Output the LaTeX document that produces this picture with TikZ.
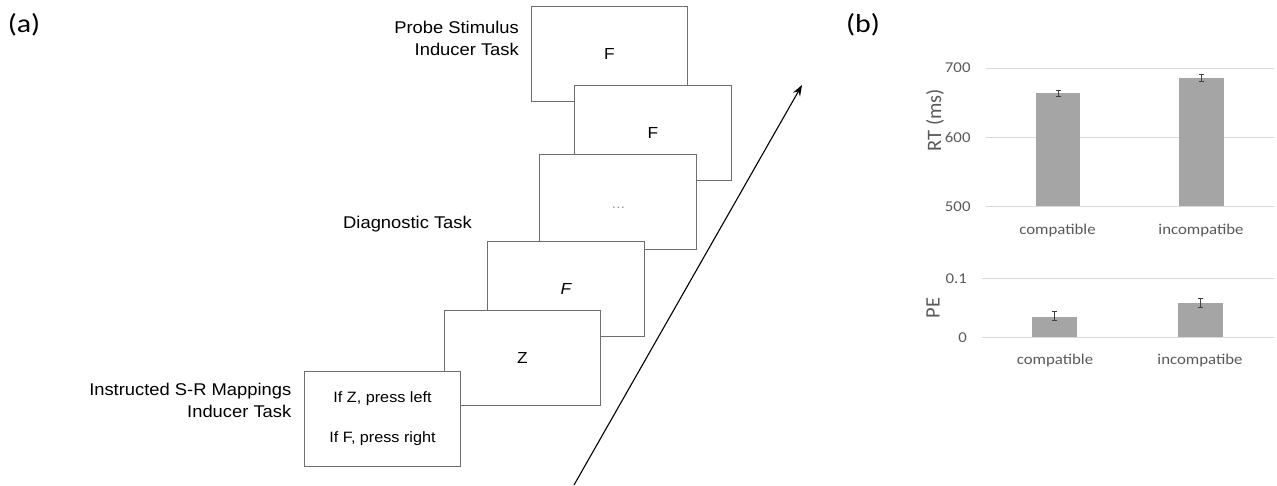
\documentclass[tikz,border=0pt]{standalone}
\usepackage{fontspec}
\usetikzlibrary{arrows.meta}
\newfontfamily\labfont[FakeStretch=1.08]{Liberation Sans}
\newfontfamily\chartfont[FakeStretch=1.12]{Carlito}
\newfontfamily\panelfont[FakeStretch=1.15]{Carlito}
\newfontfamily\titlefont{Carlito}
\definecolor{framegray}{HTML}{6E6E6E}
\definecolor{axisgray}{HTML}{595959}
\definecolor{gridgray}{HTML}{D9D9D9}
\definecolor{bargray}{HTML}{A5A5A5}
\definecolor{errgray}{HTML}{404040}
\definecolor{dotgray}{HTML}{8C8C8C}
\tikzset{
  screen/.style={draw=framegray, fill=white, line width=1pt,
    minimum width=156.5pt, minimum height=95pt, inner sep=0pt,
    font=\labfont\fontsize{16}{19}\selectfont, text=black},
  tasklabel/.style={font=\labfont\fontsize{17}{22}\selectfont, align=right, inner sep=0pt},
  panellabel/.style={font=\panelfont\fontsize{26}{30}\selectfont, inner sep=0pt},
  ticklbl/.style={font=\chartfont\fontsize{15}{18}\selectfont, text=axisgray, inner sep=0pt, anchor=east},
  catlbl/.style={font=\chartfont\fontsize{15}{18}\selectfont, text=axisgray, inner sep=0pt},
  axtitle/.style={font=\titlefont\fontsize{20.5}{24}\selectfont, text=axisgray, inner sep=0pt, rotate=90},
  gridln/.style={gridgray, line width=1pt},
  bar/.style={fill=bargray, draw=none},
  errbar/.style={errgray, line width=0.9pt},
  timeline/.style={line width=1.1pt, -{Stealth[length=11pt, width=8pt]}}
}
\begin{document}
\begin{tikzpicture}[x=1pt, y=-1pt]
  \useasboundingbox (0,0) rectangle (1277,485);

  % ---------- (a) trial sequence ----------
  \node[panellabel] (pa) at (24,24.5) {(a)};

  % screens, drawn back to front
  \node[screen] (s1) at (609.5,54)   {F};
  \node[screen] (s2) at (653,133)    {F};
  \node[screen] (s3) at (618,201.5)  {};
  \node[font=\labfont\fontsize{13}{15}\selectfont, text=dotgray, inner sep=0pt, anchor=base]
       (dots) at (618.3,208) {…};
  \node[screen] (s4) at (566,289)    {\itshape F};
  \node[screen] (s5) at (522.5,357.5) {Z};
  \node[screen, align=center, font=\labfont\fontsize{15}{39.3}\selectfont]
       (s6) at (382.5,418.5) {If Z, press left\\If F, press right};

  % task labels
  \node[tasklabel, anchor=north east] (lprobe) at (519,20.6)
       {Probe Stimulus\\Inducer Task};
  \node[tasklabel, anchor=base east] (ldiag) at (472,228.3) {Diagnostic Task};
  \node[tasklabel, anchor=north east] (linst) at (291.5,383.3)
       {Instructed S-R Mappings\\Inducer Task};

  % time arrow
  \coordinate (tstart) at (574,485);
  \coordinate (tend) at (802,85);
  \draw[timeline] (tstart) -- (tend);

  % ---------- (b) results ----------
  \node[panellabel] (pb) at (863,24.5) {(b)};

  % RT panel
  \draw[gridln] (986,68) -- (1274,68);
  \draw[gridln] (986,137.2) -- (1274,137.2);
  \draw[gridln] (986,206.3) -- (1274,206.3);
  \node[ticklbl] (t700) at (970.7,68) {700};
  \node[ticklbl] (t600) at (970.7,137.2) {600};
  \node[ticklbl] (t500) at (970.7,206.3) {500};
  \node[axtitle] (rtt) at (935,120) {RT (ms)};
  \fill[bar] (1036,93.3) rectangle (1080,206.3);
  \fill[bar] (1179,78.3) rectangle (1224,206.3);
  \draw[errbar] (1058,90) -- (1058,96.7) (1055.5,90) -- (1060.5,90) (1055.5,96.7) -- (1060.5,96.7);
  \draw[errbar] (1201.5,74.7) -- (1201.5,81.3) (1199,74.7) -- (1204,74.7) (1199,81.3) -- (1204,81.3);
  \node[catlbl] (rc1) at (1057.5,230) {compatible};
  \node[catlbl] (rc2) at (1201,230) {incompatibe};

  % PE panel
  \draw[gridln] (982,278.3) -- (1274,278.3);
  \draw[gridln] (982,337.3) -- (1274,337.3);
  \node[ticklbl] (t01) at (967,278.3) {0.1};
  \node[ticklbl] (t0) at (967,337.3) {0};
  \node[axtitle] (pet) at (933,308) {PE};
  \fill[bar] (1032,316.7) rectangle (1077,337.3);
  \fill[bar] (1178,302.7) rectangle (1223,337.3);
  \draw[errbar] (1054.5,311.7) -- (1054.5,320.7) (1052,311.7) -- (1057,311.7) (1052,320.7) -- (1057,320.7);
  \draw[errbar] (1200.5,298) -- (1200.5,307) (1198,298) -- (1203,298) (1198,307) -- (1203,307);
  \node[catlbl] (pc1) at (1055,360) {compatible};
  \node[catlbl] (pc2) at (1200,360) {incompatibe};
\end{tikzpicture}
\end{document}
